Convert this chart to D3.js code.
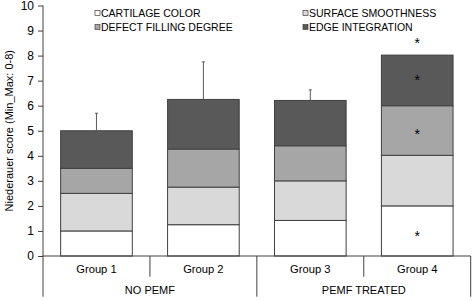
<!DOCTYPE html>
<html><head><meta charset="utf-8">
<script src="https://cdn.jsdelivr.net/npm/d3@7/dist/d3.min.js"></script>
<style>body{margin:0;background:#fff}svg{font-family:"Liberation Sans",Arial,sans-serif}</style>
</head><body><svg id="c" width="472" height="300"></svg>
<script>
const groups = ["Group 1","Group 2","Group 3","Group 4"];
const supergroups = ["NO PEMF","PEMF TREATED"];
const seriesNames = ["CARTILAGE COLOR","SURFACE SMOOTHNESS","DEFECT FILLING DEGREE","EDGE INTEGRATION"];
const cartilage = [1.0, 1.25, 1.42, 2.0];
const surface   = [1.5, 1.5, 1.58, 2.02];
const defect    = [1.0, 1.52, 1.4, 1.98];
const edge      = [1.5, 1.98, 1.81, 2.02];
const errors    = [0.7, 1.5, 0.42, 0.0];
const yTicks = [0,1,2,3,4,5,6,7,8,9,10];
const colors = ["#ffffff","#d9d9d9","#a6a6a6","#595959"];
// stars: group index and value position
const starGroup = [3,3,3,3];
const starVal = [0.9, 5.0, 7.15, 8.62];

const svg = d3.select("#c");
const mLeft = 43, mRight = 470.7, mTop = 5.5, mBottom = 256;
const x = d3.scaleBand().domain(groups).range([mLeft,mRight]).paddingInner(0.33).paddingOuter(0.165);
const xc = d3.scaleBand().domain(groups).range([mLeft,mRight]);
const y = d3.scaleLinear().domain([0,10]).range([mBottom, mTop]);

const rows = groups.map((g,i)=>({group:g, "0":cartilage[i],"1":surface[i],"2":defect[i],"3":edge[i]}));
const stack = d3.stack().keys(["0","1","2","3"])(rows);

stack.forEach((layer,k)=>{
  svg.append("g").selectAll("rect").data(layer).join("rect")
    .attr("x", d=>x(d.data.group)).attr("width", x.bandwidth())
    .attr("y", d=>y(d[1])).attr("height", d=>y(d[0])-y(d[1]))
    .attr("fill", colors[k]).attr("stroke","#404040").attr("stroke-width",1);
});

// error bars
const tot = groups.map((g,i)=>cartilage[i]+surface[i]+defect[i]+edge[i]);
groups.forEach((g,i)=>{
  if(errors[i]<=0) return;
  const cx = x(g)+x.bandwidth()/2;
  svg.append("line").attr("x1",cx).attr("x2",cx).attr("y1",y(tot[i])).attr("y2",y(tot[i]+errors[i])).attr("stroke","#595959");
  svg.append("line").attr("x1",cx-1.5).attr("x2",cx+1.5).attr("y1",y(tot[i]+errors[i])).attr("y2",y(tot[i]+errors[i])).attr("stroke","#595959");
});

// stars
starGroup.forEach((gi,j)=>{
  svg.append("text").attr("x", x(groups[gi])+x.bandwidth()/2).attr("y", y(starVal[j])+8)
    .attr("text-anchor","middle").attr("font-size",14).attr("fill","#000").text("*");
});

// y axis
const ya = svg.append("g").attr("transform",`translate(${mLeft},0)`)
  .call(d3.axisLeft(y).tickValues(yTicks).tickSize(5).tickPadding(4).tickFormat(d3.format("d")));
ya.select(".domain").attr("d",`M0,${mTop}V296.7`).attr("stroke","#404040");
ya.selectAll(".tick line").attr("stroke","#404040");
ya.selectAll(".tick text").attr("font-size",12).attr("fill","#000").attr("font-family","Liberation Sans, Arial, sans-serif");

// x axis
const xa = svg.append("g").attr("transform",`translate(0,${mBottom})`);
xa.append("line").attr("x1",mLeft).attr("x2",mRight).attr("y1",0).attr("y2",0).attr("stroke","#404040");
groups.forEach((g,i)=>{
  const xr = xc(g)+xc.bandwidth();
  const long = (i%2===1);
  xa.append("line").attr("x1",xr).attr("x2",xr).attr("y1",0).attr("y2",long?40.7:20.7).attr("stroke","#404040");
  xa.append("text").attr("x",xc(g)+xc.bandwidth()/2).attr("y",17).attr("text-anchor","middle").attr("font-size",11.2).text(g);
});
supergroups.forEach((s,j)=>{
  const cx = (xc(groups[2*j]) + xc(groups[2*j+1])+xc.bandwidth())/2;
  xa.append("text").attr("x",cx).attr("y",37.5).attr("text-anchor","middle").attr("font-size",11).text(s);
});

// y title
svg.append("text").attr("transform",`translate(13,${(mTop+mBottom)/2}) rotate(-90)`).attr("text-anchor","middle")
  .attr("font-size",11).text("Niederauer score (Min_Max: 0-8)");

// legend
const legX = [96, 304], legY = [13, 27];
seriesNames.forEach((n,i)=>{
  const lx = legX[i%2], ly = legY[Math.floor(i/2)];
  svg.append("rect").attr("x",lx-1).attr("y",ly-2.5).attr("width",5).attr("height",5)
    .attr("fill",colors[i]).attr("stroke","#404040").attr("stroke-width",0.7);
  svg.append("text").attr("x",lx+5).attr("y",ly+3.8).attr("font-size",10.5).text(n);
});
</script></body></html>
